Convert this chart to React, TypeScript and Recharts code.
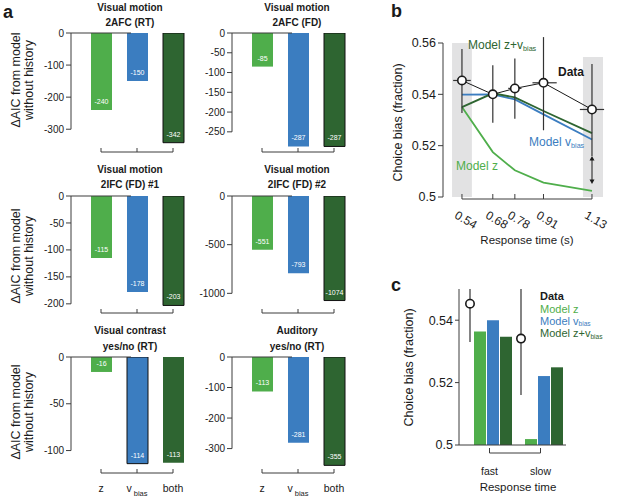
import React from 'react';
import {
  BarChart, Bar, Cell, LabelList, XAxis, YAxis, ReferenceLine, ReferenceArea,
  ComposedChart, Line, Scatter, ErrorBar,
} from 'recharts';

const FONT = '"Liberation Sans", Arial, Helvetica, sans-serif';
const AXIS = '#3c3c3c';
const INK = '#1a1a1a';
const C_Z = '#4fae4b';
const C_V = '#3b7dc0';
const C_ZV = '#2e6531';
const MODEL_COLORS = [C_Z, C_V, C_ZV];

// ---- panel a: delta AIC (z, vbias, both) ----
const MODELS = ['z', 'vbias', 'both'];
const AIC_2AFC_RT = [-240, -150, -342];
const AIC_2AFC_FD = [-85, -287, -287];
const AIC_2IFC_1 = [-115, -178, -203];
const AIC_2IFC_2 = [-551, -793, -1074];
const AIC_CONTRAST = [-16, -114, -113];
const AIC_AUDITORY = [-113, -281, -355];

const TICKS_2AFC_RT = [0, -100, -200, -300];
const TICKS_2AFC_FD = [0, -50, -100, -150, -200, -250];
const TICKS_2IFC_1 = [0, -50, -100, -150, -200];
const TICKS_2IFC_2 = [0, -500, -1000];
const TICKS_CONTRAST = [0, -50, -100];
const TICKS_AUDITORY = [0, -100, -200, -300];

// lower end of each y range (axis scale)
const AIC_MIN = [-371, -301, -217, -1202, -124, -380];
const BEST_MODEL = ['both', 'both', 'both', 'both', 'vbias', 'both'];

// ---- panel b: choice bias over RT bins ----
const RT = [0.54, 0.68, 0.78, 0.91, 1.13];
const B_DATA = [0.5454, 0.54, 0.5423, 0.5445, 0.5341];
const B_DATA_LO = [0.0127, 0.0111, 0.0118, 0.0185, 0.0181];
const B_DATA_HI = [0.0123, 0.0113, 0.0117, 0.0178, 0.0177];
const B_RT_LO = [0.04, 0.012, 0.03, 0.05, 0.055];
const B_RT_HI = [0.04, 0.012, 0.03, 0.06, 0.055];
const B_MODEL_Z = [0.5351, 0.5175, 0.5104, 0.5056, 0.5024];
const B_MODEL_V = [0.5399, 0.54, 0.538, 0.5322, 0.5224];
const B_MODEL_ZV = [0.535, 0.5404, 0.5388, 0.5335, 0.5249];
const B_TICKS_Y = [0.5, 0.52, 0.54, 0.56];

// ---- panel c: fast vs slow ----
const C_GROUPS = ['fast', 'slow'];
const C_DATA = [0.5453, 0.5341];
const C_DATA_LO = [0.0123, 0.0181];
const C_DATA_HI = [0.0123, 0.0182];
const C_MODEL_Z = [0.5364, 0.5019];
const C_MODEL_V = [0.54, 0.5221];
const C_MODEL_ZV = [0.5347, 0.5249];
const C_TICKS_Y = [0.5, 0.52, 0.54];

const Sub = ({ children }: any) => (
  <span style={{ fontSize: '0.6em', position: 'relative', top: '0.3em' }}>{children}</span>
);

function Txt({ x, y, children, size = 10, weight = 400, color = INK, anchor = 'start' }: any) {
  const tx = anchor === 'middle' ? '-50%' : anchor === 'end' ? '-100%' : '0';
  return (
    <div
      style={{
        position: 'absolute', left: x, top: y, transform: `translate(${tx}, -50%)`,
        fontSize: size, fontWeight: weight, color, whiteSpace: 'nowrap', lineHeight: 1,
      }}
    >
      {children}
    </div>
  );
}

function VText({ cx, cy, lines, size = 12.5 }: any) {
  const w = 160;
  const h = lines.length * 13;
  return (
    <div
      style={{
        position: 'absolute', left: cx - w / 2, top: cy - h / 2, width: w, height: h,
        transform: 'rotate(-90deg)', textAlign: 'center', fontSize: size, lineHeight: '13px', color: INK,
      }}
    >
      {lines.map((l: string) => <div key={l}>{l}</div>)}
    </div>
  );
}

const ValueLabel = (props: any) => {
  const x = Number(props.x), y = Number(props.y), w = Number(props.width), h = Number(props.height);
  const bottom = Math.max(y, y + h);
  return (
    <text x={x + w / 2} y={bottom - 6} textAnchor="middle" fontSize={7} fill="#fff">
      {props.value}
    </text>
  );
};

function BracketTick(props: any) {
  const { x, y, payload, index, visibleTicksCount, showLabels } = props;
  const step = 2 * (payload?.offset ?? 0);
  const v = payload?.value;
  return (
    <g>
      <line x1={x} x2={x} y1={y} y2={y - 4} stroke={AXIS} />
      {index < visibleTicksCount - 1 && <line x1={x} x2={x + step} y1={y} y2={y} stroke={AXIS} />}
      {showLabels && (
        <text x={x} y={y + 19} textAnchor="middle" fontSize={10.5} fill={INK}>
          {v === 'vbias' ? (
            <>
              <tspan>v</tspan>
              <tspan fontSize={7.5} dx={2} dy={4}>bias</tspan>
            </>
          ) : v}
        </text>
      )}
    </g>
  );
}

function AicChart({ values, ticks, domainMin, best, axisX, zeroY, bracketY, labels }: any) {
  const rows = MODELS.map((m, i) => ({ model: m, value: values[i] }));
  const plotH = bracketY - zeroY;
  const xh = 28;
  const low = Math.min(...ticks);
  return (
    <div style={{ position: 'absolute', left: axisX - 46, top: zeroY - 6 }}>
      <BarChart width={172} height={6 + plotH + xh} data={rows} margin={{ top: 6, right: 6, bottom: 0, left: 0 }}>
        <XAxis
          dataKey="model" type="category" padding={{ left: 12, right: 0 }} axisLine={false} tickLine={false}
          tickSize={0} tickMargin={0} height={xh} interval={0} tick={<BracketTick showLabels={labels} />}
        />
        <XAxis xAxisId="frame" type="number" domain={[0, 1]} hide allowDataOverflow />
        <YAxis
          type="number" domain={[domainMin, 0]} ticks={ticks} interval={0} width={46} axisLine={false}
          tickSize={5} tickLine={{ stroke: AXIS }} tick={{ fontSize: 10, fill: INK }} allowDataOverflow
        />
        <Bar dataKey="value" barSize={21} isAnimationActive={false}>
          {rows.map((r, i) => (
            <Cell key={r.model} fill={MODEL_COLORS[i]} stroke={r.model === best ? '#111' : 'none'} strokeWidth={1} />
          ))}
          <LabelList dataKey="value" content={ValueLabel} />
        </Bar>
        <ReferenceLine xAxisId="frame" segment={[{ x: 0, y: 0 }, { x: 1, y: 0 }]} stroke={AXIS} strokeWidth={1.2} ifOverflow="visible" />
        <ReferenceLine xAxisId="frame" segment={[{ x: 0, y: 0 }, { x: 0, y: low }]} stroke={AXIS} ifOverflow="visible" />
      </BarChart>
    </div>
  );
}

function RotTick(props: any) {
  const { x, y, payload } = props;
  const tx = x + 4;
  const ty = y + 23;
  return (
    <g>
      <line x1={x} x2={x} y1={y + 2} y2={y - 3} stroke={AXIS} />
      <text x={tx} y={ty} textAnchor="middle" dominantBaseline="central" fontSize={12} fill={INK}
        transform={`rotate(30, ${tx}, ${ty})`}>
        {payload.value}
      </text>
    </g>
  );
}

const DataDot = (p: any) => (
  <circle cx={p.cx} cy={p.cy} r={4.2} fill="#fff" stroke={INK} strokeWidth={1.6} />
);

function PanelB() {
  const rows = RT.map((t, i) => ({
    rt: t, data: B_DATA[i], z: B_MODEL_Z[i], vbias: B_MODEL_V[i], zv: B_MODEL_ZV[i],
    errY: [B_DATA_LO[i], B_DATA_HI[i]], errX: [B_RT_LO[i], B_RT_HI[i]],
  }));
  return (
    <div style={{ position: 'absolute', left: 395, top: 30 }}>
      <ComposedChart width={216} height={13 + 154 + 40} data={rows} margin={{ top: 13, right: 8, bottom: 0, left: 0 }}>
        <ReferenceArea x1={0.495} x2={0.585} y1={0.5} y2={0.56} fill="#e2e2e3" fillOpacity={1} stroke="none" ifOverflow="visible" />
        <ReferenceArea x1={1.089} x2={1.18} y1={0.5} y2={0.5545} fill="#e2e2e3" fillOpacity={1} stroke="none" ifOverflow="visible" />
        <XAxis
          dataKey="rt" type="number" domain={[0.454, 1.18]} ticks={RT} allowDataOverflow axisLine={false}
          tickLine={false} tickSize={0} tickMargin={0} height={40} interval={0} tick={<RotTick />}
        />
        <YAxis
          type="number" domain={[0.5, 0.56]} ticks={B_TICKS_Y} interval={0} width={48} stroke={AXIS}
          tickSize={5} tick={{ fontSize: 12.5, fill: INK }} allowDataOverflow
        />
        <ReferenceLine segment={[{ x: RT[0], y: 0.5 }, { x: RT[RT.length - 1], y: 0.5 }]} stroke={AXIS} ifOverflow="visible"
          transform="translate(0, 2)" />
        <Line dataKey="z" stroke={C_Z} strokeWidth={1.8} dot={false} isAnimationActive={false} />
        <Line dataKey="vbias" stroke={C_V} strokeWidth={1.8} dot={false} isAnimationActive={false} />
        <Line dataKey="zv" stroke={C_ZV} strokeWidth={1.8} dot={false} isAnimationActive={false} />
        <Line dataKey="data" stroke={INK} strokeWidth={1} dot={false} isAnimationActive={false} />
        <Scatter dataKey="data" shape={DataDot} isAnimationActive={false}>
          <ErrorBar dataKey="errY" direction="y" width={0} stroke="#333" strokeWidth={1.2} />
          <ErrorBar dataKey="errX" direction="x" width={0} stroke="#333" strokeWidth={1.2} />
        </Scatter>
      </ComposedChart>
    </div>
  );
}

function DataDotBar(props: any) {
  const { x, y, width, height, payload } = props;
  const ppu = height / (payload.data - C_TICKS_Y[0]);
  const cx = x + width / 2;
  return (
    <g>
      <line x1={cx} x2={cx} y1={y - payload.hi * ppu} y2={y + payload.lo * ppu} stroke="#333" strokeWidth={1.2} />
      <circle cx={cx} cy={y} r={4.2} fill="#fff" stroke={INK} strokeWidth={1.6} />
    </g>
  );
}

function GroupTick(props: any) {
  const { x, y, payload, index, visibleTicksCount } = props;
  const step = 2 * (payload?.offset ?? 0);
  const by = y + 8;
  return (
    <g>
      <line x1={x} x2={x} y1={by} y2={by - 5} stroke={AXIS} />
      {index < visibleTicksCount - 1 && <line x1={x} x2={x + step} y1={by} y2={by} stroke={AXIS} />}
      <text x={x} y={y + 30} textAnchor="middle" fontSize={10.5} fill={INK}>{payload.value}</text>
    </g>
  );
}

function PanelC() {
  const rows = C_GROUPS.map((g, i) => ({
    group: g, data: C_DATA[i], lo: C_DATA_LO[i], hi: C_DATA_HI[i],
    z: C_MODEL_Z[i], vbias: C_MODEL_V[i], zv: C_MODEL_ZV[i],
  }));
  return (
    <div style={{ position: 'absolute', left: 411, top: 259 }}>
      <BarChart width={163} height={30 + 156 + 36} data={rows} margin={{ top: 30, right: 8, bottom: 0, left: 0 }} barGap={1}>
        <XAxis
          dataKey="group" padding={{ left: 5, right: 0 }} axisLine={{ stroke: AXIS }} tickLine={false}
          tickSize={0} tickMargin={0} height={36} interval={0} tick={<GroupTick />}
        />
        <YAxis
          type="number" domain={[0.5, 0.55]} ticks={C_TICKS_Y} interval={0} width={48} stroke={AXIS}
          tickSize={4} tick={{ fontSize: 12.5, fill: INK }} allowDataOverflow
        />
        <Bar dataKey="data" barSize={6} shape={DataDotBar} isAnimationActive={false} />
        <Bar dataKey="z" barSize={12} fill={C_Z} isAnimationActive={false} />
        <Bar dataKey="vbias" barSize={12} fill={C_V} isAnimationActive={false} />
        <Bar dataKey="zv" barSize={12} fill={C_ZV} isAnimationActive={false} />
      </BarChart>
    </div>
  );
}

function Title({ cx, y1, y2, lines }: any) {
  return (
    <>
      <Txt x={cx} y={y1} size={10} weight={700} anchor="middle">{lines[0]}</Txt>
      <Txt x={cx} y={y2} size={10} weight={700} anchor="middle">{lines[1]}</Txt>
    </>
  );
}

export default function App() {
  const LX = 71;
  const RX = 232;
  return (
    <div style={{ position: 'absolute', left: 0, top: 0, width: 617, height: 502, fontFamily: FONT, background: '#fff', overflow: 'hidden', color: INK }}>
      <Txt x={3} y={12} size={18} weight={700}>a</Txt>
      <Txt x={391} y={11} size={18} weight={700}>b</Txt>
      <Txt x={391} y={285} size={18} weight={700}>c</Txt>

      <Title cx={130} y1={7.5} y2={23} lines={['Visual motion', '2AFC (RT)']} />
      <Title cx={297} y1={7.5} y2={23} lines={['Visual motion', '2AFC (FD)']} />
      <Title cx={130} y1={170} y2={185} lines={['Visual motion', '2IFC (FD) #1']} />
      <Title cx={297} y1={170} y2={185} lines={['Visual motion', '2IFC (FD) #2']} />
      <Title cx={130} y1={331} y2={347} lines={['Visual contrast', 'yes/no (RT)']} />
      <Title cx={297} y1={331} y2={347} lines={['Auditory', 'yes/no (RT)']} />

      <VText cx={23} cy={80} lines={['ΔAIC from model', 'without history']} />
      <VText cx={23} cy={256} lines={['ΔAIC from model', 'without history']} />
      <VText cx={23} cy={412} lines={['ΔAIC from model', 'without history']} />

      <AicChart values={AIC_2AFC_RT} ticks={TICKS_2AFC_RT} domainMin={AIC_MIN[0]} best={BEST_MODEL[0]} axisX={LX} zeroY={33} bracketY={152} />
      <AicChart values={AIC_2AFC_FD} ticks={TICKS_2AFC_FD} domainMin={AIC_MIN[1]} best={BEST_MODEL[1]} axisX={RX} zeroY={33} bracketY={152} />
      <AicChart values={AIC_2IFC_1} ticks={TICKS_2IFC_1} domainMin={AIC_MIN[2]} best={BEST_MODEL[2]} axisX={LX} zeroY={196} bracketY={313} />
      <AicChart values={AIC_2IFC_2} ticks={TICKS_2IFC_2} domainMin={AIC_MIN[3]} best={BEST_MODEL[3]} axisX={RX} zeroY={196} bracketY={313} />
      <AicChart values={AIC_CONTRAST} ticks={TICKS_CONTRAST} domainMin={AIC_MIN[4]} best={BEST_MODEL[4]} axisX={LX} zeroY={357} bracketY={473} labels />
      <AicChart values={AIC_AUDITORY} ticks={TICKS_AUDITORY} domainMin={AIC_MIN[5]} best={BEST_MODEL[5]} axisX={RX} zeroY={357} bracketY={473} labels />

      <PanelB />
      <VText cx={398} cy={122} lines={['Choice bias (fraction)']} />
      <Txt x={527} y={241} size={11.5} anchor="middle">Response time (s)</Txt>
      <Txt x={468} y={45} size={12} color={C_ZV}>Model z+v<Sub>bias</Sub></Txt>
      <Txt x={558} y={72} size={12} weight={700}>Data</Txt>
      <Txt x={529} y={142} size={12} color={C_V}>Model v<Sub>bias</Sub></Txt>
      <Txt x={456} y={166} size={12} color={C_Z}>Model z</Txt>
      <svg style={{ position: 'absolute', left: 587, top: 155 }} width={10} height={30}>
        <line x1={5} x2={5} y1={4} y2={26} stroke={INK} strokeWidth={1} />
        <path d="M5 1 L2.5 5.5 L7.5 5.5 Z M5 29 L2.5 24.5 L7.5 24.5 Z" fill={INK} />
      </svg>

      <PanelC />
      <VText cx={409} cy={367} lines={['Choice bias (fraction)']} />
      <Txt x={518} y={488} size={11.5} anchor="middle">Response time</Txt>
      <Txt x={540} y={296} size={11} weight={700}>Data</Txt>
      <Txt x={540} y={309} size={11} color={C_Z}>Model z</Txt>
      <Txt x={540} y={320.5} size={11} color={C_V}>Model v<Sub>bias</Sub></Txt>
      <Txt x={540} y={333} size={11} color={C_ZV}>Model z+v<Sub>bias</Sub></Txt>
    </div>
  );
}
